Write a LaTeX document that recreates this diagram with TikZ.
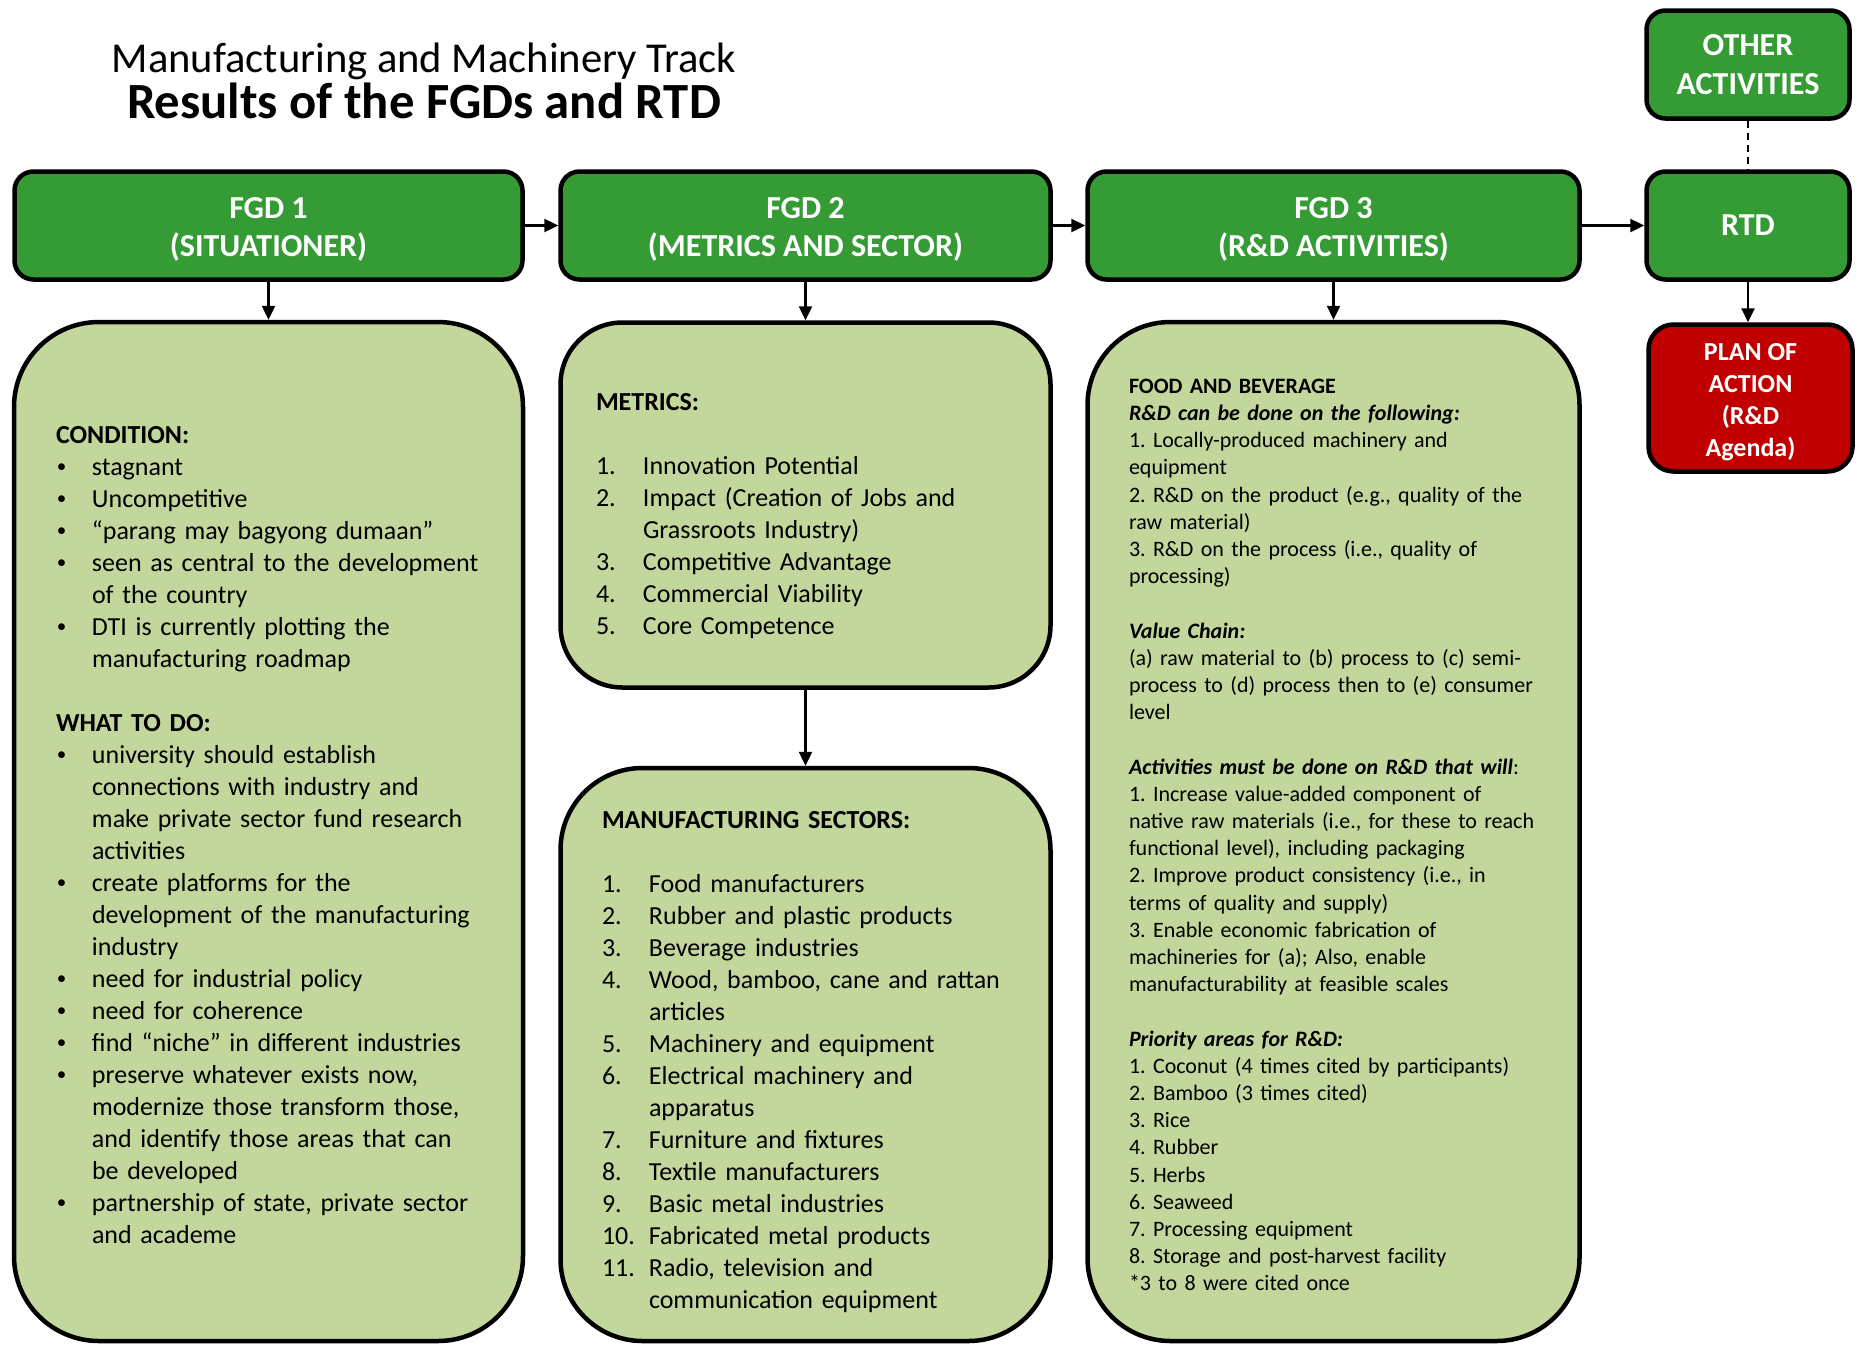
\documentclass[tikz,border=0pt]{standalone}
\usepackage{fontspec}
\setmainfont{Carlito}
\usetikzlibrary{arrows.meta}
\definecolor{hdrgreen}{RGB}{53,155,53}
\definecolor{boxgreen}{RGB}{195,214,155}
\definecolor{planred}{RGB}{192,0,0}
\frenchspacing
\newcommand\bl{\makebox[36pt][l]{\hspace{1pt}\raisebox{2.5pt}{\fontsize{19}{19}\selectfont •}}}
\newcommand\ind{\hspace*{36pt}}
\newcommand\nm[1]{\makebox[47pt][l]{#1}}
\tikzset{
  header/.style={draw=black, line width=4.5pt, fill=hdrgreen, rounded corners=19pt,
    text=white, font=\fontsize{32}{38}\selectfont\bfseries, align=center, inner sep=0pt},
  content/.style={draw=black, line width=4.5pt, fill=boxgreen, align=left, inner sep=0pt,
    text=black, font=\fontsize{26}{32}\selectfont},
  conn/.style={line width=2.4pt, -{Triangle[length=14pt,width=13pt]}},
  dashconn/.style={line width=2pt, dash pattern=on 7pt off 5pt},
}
\begin{document}
\begin{tikzpicture}[x=1pt,y=-1pt]
\useasboundingbox (0,0) rectangle (1858,1345);
% title
\node[font=\fontsize{42.6}{50}\selectfont, anchor=base] (t1) at (424,72) {Manufacturing and Machinery Track};
\node[font=\fontsize{50.7}{60}\selectfont\bfseries, anchor=base] (t2) at (424,118) {Results of the FGDs and RTD};
% headers
\node[header, minimum width=508, minimum height=108] (fgd1) at (268.5,225.5) {\strut\\[-35.6pt]FGD 1\\(SITUATIONER)};
\node[header, minimum width=490, minimum height=108] (fgd2) at (805.5,225.5) {\strut\\[-35.6pt]FGD 2\\(METRICS AND SECTOR)};
\node[header, minimum width=492, minimum height=108] (fgd3) at (1333.5,225.5) {\strut\\[-35.6pt]FGD 3\\(R\&D ACTIVITIES)};
\node[header, minimum width=203, minimum height=108] (rtd) at (1748,225.5) {RTD};
\node[header, minimum width=203, minimum height=108] (other) at (1748,64.5) {OTHER\\[1pt]ACTIVITIES};
\node[header, fill=planred, rounded corners=25pt, font=\fontsize{26}{32}\selectfont\bfseries,
  minimum width=204, minimum height=147] (plan) at (1750.5,398) {\strut\\[-29.8pt]PLAN OF\\ACTION\\(R\&D\\Agenda)};
% content boxes
\node[content, rounded corners=85pt, minimum width=509, minimum height=1019, text width=425] (c1) at (268.5,831.5) {%
\strut\\[-31pt]
\textbf{CONDITION:}\\
\bl stagnant\\
\bl Uncompetitive\\
\bl “parang may bagyong dumaan”\\
\bl seen as central to the development\\
\ind of the country\\
\bl DTI is currently plotting the\\
\ind manufacturing roadmap\\[32pt]
\textbf{WHAT TO DO:}\\
\bl university should establish\\
\ind connections with industry and\\
\ind make private sector fund research\\
\ind activities\\
\bl create platforms for the\\
\ind development of the manufacturing\\
\ind industry\\
\bl need for industrial policy\\
\bl need for coherence\\
\bl find “niche” in different industries\\
\bl preserve whatever exists now,\\
\ind modernize those transform those,\\
\ind and identify those areas that can\\
\ind be developed\\
\bl partnership of state, private sector\\
\ind and academe};
\node[content, rounded corners=62pt, minimum width=490, minimum height=365, text width=419] (metrics) at (805.5,505) {%
\strut\\[-15pt]
\textbf{METRICS:}\\[32pt]
\nm{1.}Innovation Potential\\
\nm{2.}Impact (Creation of Jobs and\\
\nm{}Grassroots Industry)\\
\nm{3.}Competitive Advantage\\
\nm{4.}Commercial Viability\\
\nm{5.}Core Competence};
\node[content, rounded corners=82pt, minimum width=490, minimum height=573, text width=407] (sectors) at (805.5,1054.5) {%
\strut\\[-23pt]
\textbf{MANUFACTURING SECTORS:}\\[32pt]
\nm{1.}Food manufacturers\\
\nm{2.}Rubber and plastic products\\
\nm{3.}Beverage industries\\
\nm{4.}Wood, bamboo, cane and rattan\\
\nm{}articles\\
\nm{5.}Machinery and equipment\\
\nm{6.}Electrical machinery and\\
\nm{}apparatus\\
\nm{7.}Furniture and fixtures\\
\nm{8.}Textile manufacturers\\
\nm{9.}Basic metal industries\\
\nm{10.}Fabricated metal products\\
\nm{11.}Radio, television and\\
\nm{}communication equipment};
\node[content, rounded corners=83pt, minimum width=492, minimum height=1019, text width=409,
  font=\fontsize{22}{27.2}\selectfont] (c3) at (1333.5,831.5) {%
\strut\\[-25pt]
\textbf{FOOD AND BEVERAGE}\\
\textbf{\textit{R\&D can be done on the following:}}\\
1. Locally-produced machinery and\\
equipment\\
2. R\&D on the product (e.g., quality of the\\
raw material)\\
3. R\&D on the process (i.e., quality of\\
processing)\\[27.2pt]
\textbf{\textit{Value Chain:}}\\
(a) raw material to (b) process to (c) semi-\\
process to (d) process then to (e) consumer\\
level\\[27.2pt]
\textbf{\textit{Activities must be done on R\&D that will}}:\\
1. Increase value-added component of\\
native raw materials (i.e., for these to reach\\
functional level), including packaging\\
2. Improve product consistency (i.e., in\\
terms of quality and supply)\\
3. Enable economic fabrication of\\
machineries for (a); Also, enable\\
manufacturability at feasible scales\\[27.2pt]
\textbf{\textit{Priority areas for R\&D:}}\\
1. Coconut (4 times cited by participants)\\
2. Bamboo (3 times cited)\\
3. Rice\\
4. Rubber\\
5. Herbs\\
6. Seaweed\\
7. Processing equipment\\
8. Storage and post-harvest facility\\
{*}3 to 8 were cited once};
% connectors
\draw[conn] (fgd1.east) -- (fgd2.west);
\draw[conn] (fgd2.east) -- (fgd3.west);
\draw[conn] (fgd3.east) -- (rtd.west);
\draw[conn] (fgd1.south) -- (c1.north);
\draw[conn] (fgd2.south) -- (metrics.north);
\draw[conn] (metrics.south) -- (sectors.north);
\draw[conn] (fgd3.south) -- (c3.north);
\draw[conn] (rtd.south) -- (rtd.south |- plan.north);
\draw[dashconn] (other.south) -- (rtd.north);
\end{tikzpicture}
\end{document}
